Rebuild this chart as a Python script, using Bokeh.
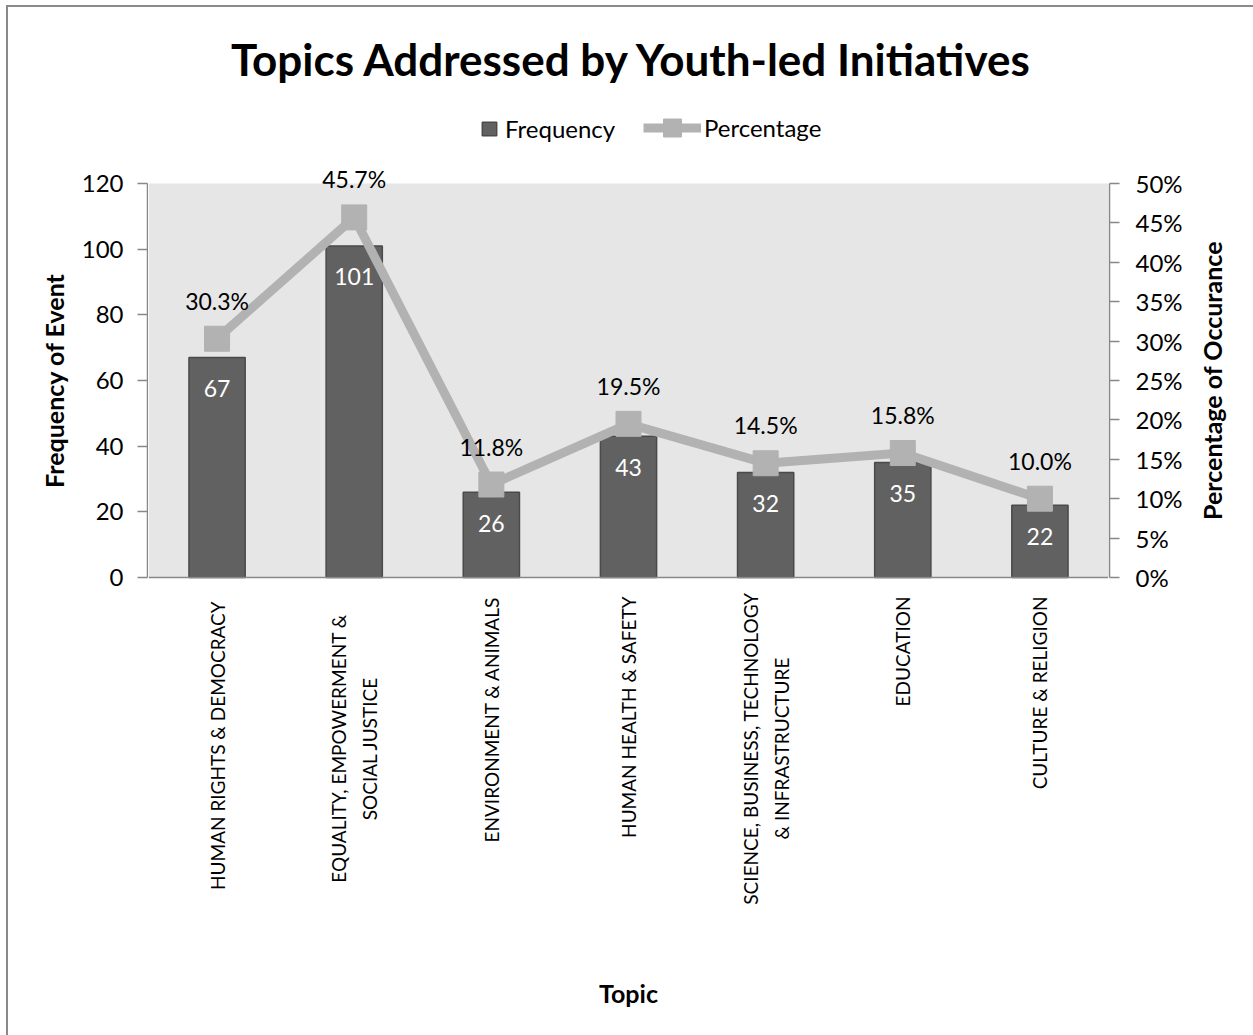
from bokeh.plotting import figure
from bokeh.layouts import row
from bokeh.models import (ColumnDataSource, FactorRange, Range1d, SingleIntervalTicker, FixedTicker,
                          PrintfTickFormatter, LabelSet, Label, Legend, LegendItem, BoxAnnotation,
                          Title)
from bokeh.embed import file_html
from bokeh.resources import INLINE
from bokeh.core.properties import value
from math import pi

categories = ["HUMAN RIGHTS & DEMOCRACY", "EQUALITY, EMPOWERMENT & SOCIAL JUSTICE",
              "ENVIRONMENT & ANIMALS", "HUMAN HEALTH & SAFETY",
              "SCIENCE, BUSINESS, TECHNOLOGY & INFRASTRUCTURE", "EDUCATION", "CULTURE & RELIGION"]
tick_labels = ["HUMAN RIGHTS &  DEMOCRACY", "EQUALITY, EMPOWERMENT &\nSOCIAL JUSTICE",
               "ENVIRONMENT & ANIMALS", "HUMAN HEALTH & SAFETY",
               "SCIENCE, BUSINESS, TECHNOLOGY\n& INFRASTRUCTURE", "EDUCATION", "CULTURE & RELIGION"]
frequency = [67, 101, 26, 43, 32, 35, 22]
percentage = [30.3, 45.7, 11.8, 19.5, 14.5, 15.8, 10.0]
FREQ_MAX, PCT_MAX = 120, 50

FONT = "Lato"
BAR = "#616161"
LINE = "#b2b2b2"
AXIS = "#888888"

# ---- page geometry (pixels) ----
OX, OY = 8, 7                 # layout origin on the page (after border)
H = 1028
TOTAL_W = 1245
LEFT_W, RIGHT_W = 140, 82
FRAME_L, FRAME_R = 148, 1108  # page x of the main frame
MAIN_W = FRAME_R - FRAME_L
LABEL_W = TOTAL_W - LEFT_W - MAIN_W - RIGHT_W
PLOT_TOP, AXIS_Y = 183, 577   # page y of the grey plot area
MB_BOTTOM = 27
FRAME_TOP = OY
FRAME_BOT = OY + H - MB_BOTTOM
PX = (AXIS_Y - PLOT_TOP) / FREQ_MAX          # pixels per frequency unit
PXP = (AXIS_Y - PLOT_TOP) / PCT_MAX          # pixels per percent unit


def fy(page_y):
    """page y -> frequency-axis data value"""
    return (AXIS_Y - page_y) / PX


src = ColumnDataSource(dict(cat=categories, freq=frequency, pct=percentage,
                            freq_txt=[str(v) for v in frequency],
                            pct_txt=[f"{v:.1f}%" for v in percentage]))

# ---------------- main plot ----------------
p = figure(x_range=FactorRange(*categories, range_padding=0),
           y_range=Range1d(fy(FRAME_BOT), fy(FRAME_TOP)), y_axis_location=None,
           width=MAIN_W, height=H, output_backend="svg", toolbar_location=None,
           min_border_left=0, min_border_right=0, min_border_top=0, min_border_bottom=MB_BOTTOM,
           background_fill_color="white", border_fill_color="white", outline_line_color=None)
p.frame_align = False
p.extra_y_ranges = {"pct": Range1d((AXIS_Y - FRAME_BOT) / PXP, (AXIS_Y - FRAME_TOP) / PXP)}
p.grid.visible = False

# grey plot area
p.add_layout(BoxAnnotation(bottom=0, top=FREQ_MAX, fill_color="#e6e6e6", fill_alpha=1,
                           line_color=None, level="underlay"))

bars = p.vbar(x="cat", top="freq", width=0.41, source=src, fill_color=BAR,
              line_color="#4a4a4a", line_width=1.5)
line = p.line(x="cat", y="pct", source=src, y_range_name="pct", line_color=LINE,
              line_width=9, line_join="round")
marks = p.scatter(x="cat", y="pct", source=src, y_range_name="pct", marker="square", size=25,
                  fill_color=LINE, line_color=LINE)

# data labels
p.add_layout(LabelSet(x="cat", y="freq", text="freq_txt", source=src, y_offset=-31,
                      text_align="center", text_baseline="middle", text_color="white",
                      text_font=value(FONT), text_font_size="23px"))
p.add_layout(LabelSet(x="cat", y="pct", text="pct_txt", source=src, y_range_name="pct",
                      y_offset=38, text_align="center", text_baseline="middle",
                      text_color="black", text_font=value(FONT), text_font_size="23px"))

# x axis (line at zero; category names drawn below as vertical text)
xa = p.xaxis[0]
xa.fixed_location = 0
xa.ticker = FixedTicker(ticks=[])
xa.axis_line_color = AXIS
xa.axis_line_width = 1.5
xa.major_tick_line_color = None
xa.major_tick_out = 0
xa.major_label_standoff = 0

CAT_GAP = 19          # px between axis and end of the labels
MULTI_CENTER = 171    # px below the axis: centre of two-line labels
LINE_GAP = 31         # px between the two lines
single = dict(cat=[], txt=[])
multi = dict(cat=[], txt=[], dx=[])
for c, lbl in zip(categories, tick_labels):
    parts = lbl.split("\n")
    if len(parts) == 1:
        single["cat"].append(c)
        single["txt"].append(lbl)
    else:
        n = len(parts)
        for k, t in enumerate(parts):
            multi["cat"].append(c)
            multi["txt"].append(t)
            multi["dx"].append((k - (n - 1) / 2) * LINE_GAP)
single["y"] = [-CAT_GAP / PX] * len(single["cat"])
multi["y"] = [-MULTI_CENTER / PX] * len(multi["cat"])
cat_style = dict(angle=pi / 2, text_baseline="middle", text_color="black",
                 text_font=value(FONT), text_font_size="19px")
p.add_layout(LabelSet(x="cat", y="y", text="txt", source=ColumnDataSource(single),
                      text_align="right", **cat_style))
p.add_layout(LabelSet(x="cat", y="y", text="txt", x_offset="dx", source=ColumnDataSource(multi),
                      text_align="center", **cat_style))

# chart title and x-axis title
title_style = dict(x_units="screen", text_align="center", text_baseline="middle",
                   text_font=FONT, text_font_style="bold", text_color="black")
p.add_layout(Label(x=628 - FRAME_L, y=fy(992), text="Topic", text_font_size="25px",
                   **title_style))
p.add_layout(Label(x=632 - FRAME_L, y=fy(58), text="Topics Addressed by Youth-led Initiatives",
                   text_font_size="44px", **title_style))

# legends
LEG_Y = FRAME_BOT - 128   # legend centre, px above frame bottom
common = dict(orientation="horizontal", background_fill_alpha=0, border_line_alpha=0,
              padding=0, margin=0, spacing=0, label_text_font=FONT, label_text_font_size="24px",
              label_text_color="black")
leg1 = Legend(items=[LegendItem(label="Frequency", renderers=[bars])],
              location=(480 - FRAME_L, LEG_Y - 15),
              glyph_width=18, glyph_height=17, label_height=17, label_standoff=7, **common)
leg2 = Legend(items=[LegendItem(label="Percentage", renderers=[line, marks])],
              location=(643 - FRAME_L, LEG_Y - 22),
              glyph_width=58, glyph_height=45, label_height=45, label_standoff=3, **common)
p.add_layout(leg1)
p.add_layout(leg2)

# ---------------- value axes (frame = grey plot area height) ----------------
side = dict(height=H, output_backend="svg", toolbar_location=None, x_range=Range1d(0, 1),
            x_axis_location=None, min_border_top=PLOT_TOP - OY, min_border_bottom=H - (AXIS_Y - OY),
            background_fill_color="white", border_fill_color="white", outline_line_color=None)
left = figure(width=LEFT_W, y_range=Range1d(0, FREQ_MAX), min_border_left=LEFT_W - 1,
              min_border_right=0, **side)
right = figure(width=RIGHT_W, y_range=Range1d(0, PCT_MAX), y_axis_location="right",
               min_border_left=0, min_border_right=RIGHT_W - 1, **side)
# right-hand axis title (reads upwards, centred on the plot area)
lab = figure(width=LABEL_W, y_range=Range1d(0, PCT_MAX), y_axis_location=None,
             min_border_left=0, min_border_right=0, **side)
lab.add_layout(Title(text="Percentage of Occurance", align="center", vertical_align="middle",
                     text_font=FONT, text_font_style="bold", text_font_size="25px",
                     text_color="black"), "left")
for f in (left, right, lab):
    f.grid.visible = False
    f.frame_align = False

yl = left.yaxis[0]
yl.ticker = SingleIntervalTicker(interval=20)
yl.axis_label = "Frequency of Event"
yr = right.yaxis[0]
yr.ticker = SingleIntervalTicker(interval=5)
yr.formatter = PrintfTickFormatter(format="%d%%")

for ax in [yl, yr]:
    ax.axis_line_color = AXIS
    ax.axis_line_width = 1.5
    ax.major_tick_line_color = AXIS
    ax.major_tick_line_width = 1.5
    ax.major_tick_out = 10
    ax.major_tick_in = 0
    ax.minor_tick_line_color = None
    ax.major_label_text_font = FONT
    ax.major_label_text_font_size = "24px"
    ax.major_label_text_color = "black"
    ax.axis_label_text_font = FONT
    ax.axis_label_text_font_style = "bold"
    ax.axis_label_text_font_size = "25px"
    ax.axis_label_text_color = "black"
yl.major_label_standoff = 14
yr.major_label_standoff = 16
yl.axis_label_standoff = 10

lay = row(left, p, right, lab, spacing=0)
lay.styles = {"border-left": "2px solid #8a8a8a", "border-top": "2px solid #8a8a8a",
              "margin-left": "6px", "margin-top": "5px"}

open("out.html", "w").write(file_html(lay, INLINE))
